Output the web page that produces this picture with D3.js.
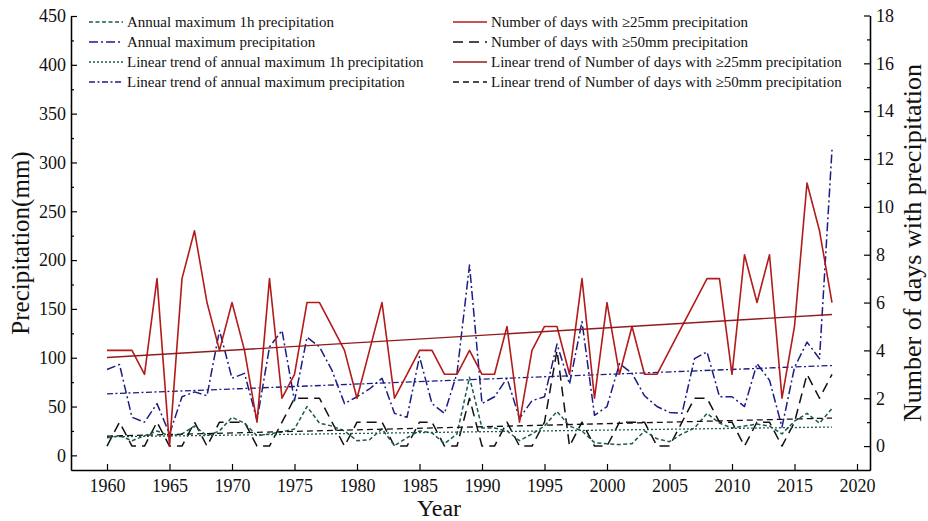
<!DOCTYPE html>
<html>
<head>
<meta charset="utf-8">
<script src="https://cdn.jsdelivr.net/npm/d3@7"></script>
<style>
  html, body { margin: 0; padding: 0; background: #fff; }
  svg { display: block; }
  svg text { font-family: "Liberation Serif", "Times New Roman", serif !important; }
</style>
</head>
<body>
<svg id="chart" width="928" height="521"></svg>
<script>
// Years of record
const years = d3.range(1960, 2019);

// Annual maximum 1h precipitation (mm), left axis
const max1h = [18, 20, 15, 20, 25, 20, 22, 30, 20, 25, 39, 33, 20, 22, 24, 27, 50, 33, 30, 25,
               15, 16, 27, 10, 18, 25, 23, 12, 22, 80, 28, 28, 25, 15, 22, 30, 45, 30, 25, 13,
               12, 11, 12, 25, 17, 14, 22, 28, 43, 33, 28, 30, 32, 30, 22, 35, 43, 33, 48];

// Annual maximum precipitation (mm), left axis
const maxPrecip = [88, 93, 39, 34, 53, 22, 60, 65, 61, 128, 79, 84, 36, 111, 128, 56, 121, 111, 87, 53,
                   60, 68, 79, 43, 39, 101, 53, 43, 84, 195, 53, 60, 79, 38, 56, 60, 114, 73, 137, 41,
                   50, 94, 84, 61, 50, 44, 43, 99, 106, 60, 60, 50, 94, 77, 29, 90, 116, 99, 313];

// Number of days with >=25mm precipitation, right axis
const days25 = [4, 4, 4, 3, 7, 0, 7, 9, 6, 4, 6, 4, 1, 7, 2, 3, 6, 6, 5, 4,
                2, 4, 6, 2, 3, 4, 4, 3, 3, 4, 3, 3, 5, 1, 4, 5, 5, 3, 7, 2,
                6, 3, 5, 3, 3, 4, 5, 6, 7, 7, 3, 8, 6, 8, 2, 5, 11, 9, 6];

// Number of days with >=50mm precipitation, right axis
const days50 = [0, 1, 0, 0, 1, 0, 0, 1, 0, 1, 1, 1, 0, 0, 1, 2, 2, 2, 1, 0,
                1, 1, 1, 0, 0, 1, 1, 0, 0, 2, 0, 0, 1, 0, 0, 1, 4, 0, 1, 0,
                0, 1, 1, 1, 0, 0, 1, 2, 2, 1, 1, 0, 1, 1, 0, 1, 3, 2, 3];

// Linear trend values at the first and last year
const trendYears = [1960, 2018];
const trendMax1h = [19, 29];
const trendMaxPrecip = [63, 92];
const trendDays25 = [3.7, 5.5];
const trendDays50 = [0.42, 1.17];

// Axis ticks
const xTicks = d3.range(1960, 2021, 5);
const yLeftTicks = d3.range(0, 451, 50);
const yLeftMinor = d3.range(25, 451, 50);
const yRightTicks = d3.range(0, 19, 2);
const yRightMinor = d3.range(1, 18, 2);

const svg = d3.select("#chart");

const x = d3.scaleLinear().domain([1957.12, 2021.04]).range([71, 870]);
const yL = d3.scaleLinear().domain([-15, 450]).range([470, 16]);
const yR = d3.scaleLinear().domain([-1, 18]).range([470, 15.5]);

const styles = {
  max1h:       { color: "#1e5a52", dash: "4,2.5", width: 1.5 },
  maxPrecip:   { color: "#1c1c86", dash: "9,3,2,3", width: 1.5 },
  tMax1h:      { color: "#1e5a52", dash: "2,2", width: 1.3 },
  tMaxPrecip:  { color: "#1c1c86", dash: "6,2.5,2,2.5", width: 1.3 },
  days25:      { color: "#b31b1b", dash: null, width: 1.6 },
  days50:      { color: "#111111", dash: "10,6", width: 1.5 },
  tDays25:     { color: "#8f1c1c", dash: null, width: 1.4 },
  tDays50:     { color: "#111111", dash: "6,4", width: 1.3 }
};

function drawLine(xs, vs, yScale, st) {
  const line = d3.line().x((d, i) => x(xs[i])).y(d => yScale(d));
  svg.append("path")
    .datum(vs)
    .attr("d", line)
    .attr("fill", "none")
    .attr("stroke", st.color)
    .attr("stroke-width", st.width)
    .attr("stroke-dasharray", st.dash)
    .attr("stroke-linejoin", "round");
}

// Series (drawn back to front)
drawLine(years, days50, yR, styles.days50);
drawLine(years, max1h, yL, styles.max1h);
drawLine(years, maxPrecip, yL, styles.maxPrecip);
drawLine(trendYears, trendMax1h, yL, styles.tMax1h);
drawLine(trendYears, trendMaxPrecip, yL, styles.tMaxPrecip);
drawLine(trendYears, trendDays50, yR, styles.tDays50);
drawLine(years, days25, yR, styles.days25);
drawLine(trendYears, trendDays25, yR, styles.tDays25);

// Axes (ticks pointing inward)
function styleAxis(g, size) {
  g.attr("font-family", null);
  g.selectAll("path.domain").attr("stroke", "#000").attr("stroke-width", 1.3);
  g.selectAll(".tick line").attr("stroke", "#000").attr("stroke-width", 1.2);
  g.selectAll("text").attr("font-size", size).attr("fill", "#111");
}

const xAxis = svg.append("g").attr("transform", "translate(0,470)")
  .call(d3.axisBottom(x).tickValues(xTicks).tickFormat(d3.format("d"))
    .tickSizeInner(-6).tickSizeOuter(0).tickPadding(6));
styleAxis(xAxis, 18);
xAxis.selectAll("text").attr("dy", "0.9em");

svg.append("g").attr("transform", "translate(71,0)")
  .call(d3.axisLeft(yL).tickValues(yLeftMinor).tickFormat("").tickSizeInner(-3).tickSizeOuter(0))
  .call(g => styleAxis(g, 18));
const yLeftAxis = svg.append("g").attr("transform", "translate(71,0)")
  .call(d3.axisLeft(yL).tickValues(yLeftTicks).tickSizeInner(-6).tickSizeOuter(0).tickPadding(5));
styleAxis(yLeftAxis, 18);

svg.append("g").attr("transform", "translate(870,0)")
  .call(d3.axisRight(yR).tickValues(yRightMinor).tickFormat("").tickSizeInner(-3).tickSizeOuter(0))
  .call(g => styleAxis(g, 18));
const yRightAxis = svg.append("g").attr("transform", "translate(870,0)")
  .call(d3.axisRight(yR).tickValues(yRightTicks).tickSizeInner(-6).tickSizeOuter(0).tickPadding(6));
styleAxis(yRightAxis, 18);

// Axis titles
svg.append("text")
  .attr("transform", "translate(29,243) rotate(-90)")
  .attr("text-anchor", "middle")
  .attr("font-size", 25).attr("fill", "#111")
  .text("Precipitation(mm)");

svg.append("text")
  .attr("x", 439).attr("y", 516)
  .attr("text-anchor", "middle")
  .attr("font-size", 24).attr("fill", "#111")
  .text("Year");

svg.append("text")
  .attr("transform", "translate(921,243) rotate(-90)")
  .attr("text-anchor", "middle")
  .attr("font-size", 26).attr("fill", "#111")
  .text("Number of days with precipitation");

// Legend
const legendItems = [
  { label: "Annual maximum 1h precipitation", st: styles.max1h, col: 0, row: 0 },
  { label: "Annual maximum precipitation", st: styles.maxPrecip, col: 0, row: 1 },
  { label: "Linear trend of annual maximum 1h precipitation", st: styles.tMax1h, col: 0, row: 2 },
  { label: "Linear trend of annual maximum precipitation", st: styles.tMaxPrecip, col: 0, row: 3 },
  { label: "Number of days with \u226525mm precipitation", st: styles.days25, col: 1, row: 0 },
  { label: "Number of days with \u226550mm precipitation", st: styles.days50, col: 1, row: 1 },
  { label: "Linear trend of Number of days with \u226525mm precipitation", st: styles.tDays25, col: 1, row: 2 },
  { label: "Linear trend of Number of days with \u226550mm precipitation", st: styles.tDays50, col: 1, row: 3 }
];
const colX = [89, 453];
const legend = svg.append("g");
legendItems.forEach(it => {
  const cy = 22 + it.row * 20;
  const x0 = colX[it.col];
  legend.append("line")
    .attr("x1", x0).attr("x2", x0 + 34).attr("y1", cy).attr("y2", cy)
    .attr("stroke", it.st.color).attr("stroke-width", it.st.width)
    .attr("stroke-dasharray", it.st.dash);
  legend.append("text")
    .attr("x", x0 + 38).attr("y", cy).attr("dy", "0.35em")
    .attr("font-size", 15).attr("fill", "#111")
    .text(it.label);
});
</script>
</body>
</html>
